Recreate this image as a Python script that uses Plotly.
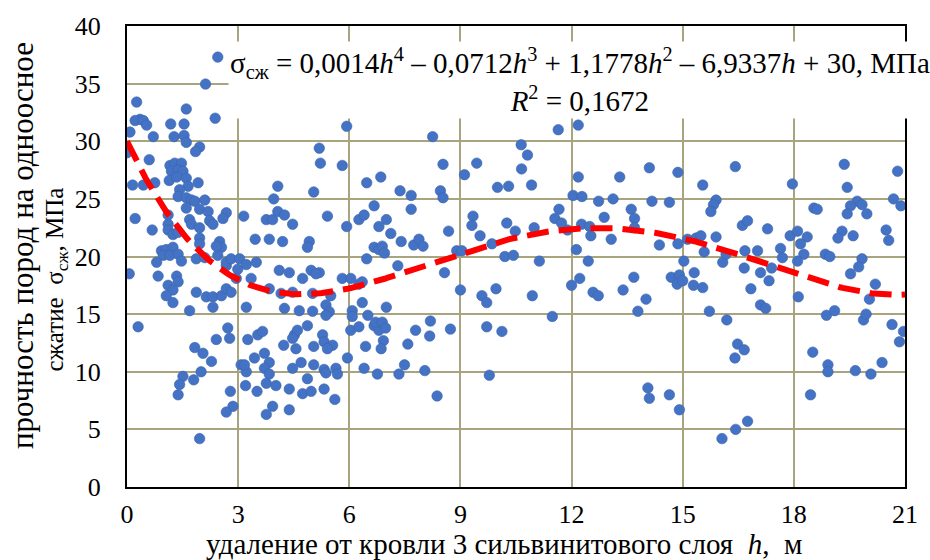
import plotly.graph_objects as go
import numpy as np

# distance from the roof of sylvinite layer 3, m
h_vals = [
    2.12, 0.26, 1.6, 2.38, 0.35, 0.22, 0.44, 0.53, 0.08, 1.18, 1.54, 0.71, 1.27, 1.54, 1.6,
    1.96, 1.85, 0.0, 0.6, 1.16, 1.29, 1.47, 1.2, 1.38, 1.51, 1.14, 1.34, 1.6, 0.15, 0.44,
    0.75, 1.92, 1.65, 1.42, 1.38, 1.6, 1.74, 1.83, 2.1, 1.96, 2.19, 1.6, 1.11, 0.22, 2.68,
    2.59, 3.15, 0.68, 1.11, 1.11, 1.69, 1.74, 1.96, 1.24, 1.38, 1.96, 1.96, 2.23, 2.32, 2.5,
    2.55, 2.45, 0.93, 1.06, 1.24, 0.98, 1.16, 1.38, 0.8, 1.47, 1.87, 2.1, 0.06, 0.84, 1.34,
    1.38, 1.11, 1.24, 1.06, 1.24, 1.87, 2.14, 2.32, 2.32, 2.55, 2.68, 2.81, 2.99, 2.95, 2.68,
    1.69, 2.41, 2.68, 2.81, 3.04, 0.3, 2.72, 2.77, 2.41, 1.83, 2.05, 2.28, 3.08, 3.22, 3.2,
    1.51, 1.42, 1.38, 1.8, 2.0, 2.79, 2.86, 2.68, 1.96, 2.45,
    5.93, 5.19, 5.22, 5.81, 4.07, 3.96, 5.04, 6.47, 6.85, 3.76, 3.93, 4.07, 4.25, 4.47, 5.41,
    5.93, 6.26, 6.4, 6.67, 6.8, 3.46, 3.84, 4.2, 4.92, 4.87, 6.67, 6.8, 6.47, 3.22, 3.49,
    4.11, 4.38, 4.97, 5.19, 5.1, 3.35, 3.84, 4.74, 5.81, 6.04, 6.26, 6.35, 4.16, 4.47, 5.01,
    5.5, 6.35, 3.22, 4.25, 4.65, 5.01, 5.37, 5.46, 5.37, 6.08, 6.08, 6.5, 6.04, 6.26, 6.67,
    6.8, 3.26, 3.53, 3.66, 4.52, 4.6, 4.87, 4.47, 5.28, 5.32, 5.55, 5.41, 4.23, 4.56, 5.04,
    6.44, 3.44, 3.71, 3.17, 3.84, 3.71, 3.84, 3.76, 4.02, 4.47, 4.7, 5.04, 5.32, 5.64, 5.68,
    5.37, 5.95, 6.4, 6.76, 3.51, 4.38, 4.74, 4.97, 5.32, 4.87, 5.61, 3.93, 3.76, 4.38,
    8.25, 8.53, 9.44, 9.11, 7.37, 7.67, 7.67, 8.46, 8.53, 10.0, 10.3, 7.0, 7.12, 7.4, 7.74,
    7.88, 7.99, 8.68, 9.34, 9.31, 9.53, 10.25, 6.89, 6.95, 8.9, 9.04, 9.85, 10.2, 7.31, 8.57,
    9.0, 9.58, 9.71, 9.96, 7.0, 6.71, 6.89, 6.98, 8.19, 7.79, 8.17, 8.73, 9.71, 10.12, 6.92,
    6.86, 7.58, 7.34, 7.49, 8.04, 9.78, 8.37,
    11.64, 12.18, 10.64, 10.81, 10.65, 10.92, 12.18, 13.3, 12.04, 12.28, 12.73, 13.12, 13.61, 13.7, 13.7,
    11.66, 11.55, 11.73, 11.89, 10.48, 10.99, 12.27, 12.49, 12.52, 12.88, 13.07, 10.43, 11.13, 12.13, 12.45,
    12.0, 12.22, 12.58, 12.72, 13.39, 13.68, 10.94, 11.48, 13.79,
    14.1, 14.87, 16.42, 15.54, 14.17, 14.64, 15.9, 15.83, 15.76, 16.61, 16.75, 17.29, 14.37, 14.87, 15.13,
    15.36, 15.49, 15.9, 15.58, 16.08, 16.17, 16.68, 17.02, 15.03, 16.66, 14.69, 14.91, 14.85, 15.0, 15.31,
    15.29, 15.54, 17.1, 17.33, 16.84, 14.01, 17.1, 17.24, 15.72, 16.19, 16.48, 16.66, 16.41, 14.06, 14.1,
    14.64, 14.91, 16.06, 16.43, 16.75,
    19.36, 20.8, 19.44, 17.96, 18.54, 18.63, 19.71, 19.53, 19.84, 19.97, 19.44, 20.69, 20.89, 17.9, 18.1,
    18.36, 18.18, 17.64, 17.69, 19.3, 19.19, 19.6, 20.49, 20.56, 18.27, 18.1, 18.85, 18.97, 19.84, 19.75,
    19.53, 20.2, 17.4, 18.12, 20.04, 18.88, 19.1, 19.88, 19.95, 20.65, 20.96, 20.85, 18.51, 18.92, 18.92,
    19.66, 20.08, 20.38, 18.45,
]

# uniaxial compressive strength, MPa
s_vals = [
    34.96, 33.4, 32.8, 32.0, 31.9, 31.8, 31.8, 31.4, 30.8, 31.5, 31.5, 30.4, 30.4, 30.5, 29.9,
    29.5, 29.1, 29.0, 28.4, 27.9, 28.1, 28.1, 27.4, 27.5, 27.4, 26.6, 26.9, 26.8, 26.2, 26.2,
    26.4, 26.4, 26.1, 25.8, 25.2, 25.1, 24.9, 24.8, 24.9, 24.1, 23.9, 24.2, 23.6, 23.3, 23.8,
    23.3, 23.5, 22.3, 22.8, 22.3, 23.2, 22.8, 22.5, 21.9, 22.1, 21.6, 21.1, 23.1, 22.8, 21.3,
    20.8, 20.1, 20.5, 20.6, 20.8, 20.1, 20.1, 20.2, 19.5, 19.6, 19.8, 19.9, 18.5, 18.3, 18.3,
    17.8, 17.5, 17.1, 16.6, 16.0, 16.9, 16.5, 16.5, 15.6, 16.6, 17.2, 16.9, 18.9, 18.1, 19.2,
    15.3, 20.9, 19.5, 19.8, 19.8, 13.9, 13.8, 12.9, 12.8, 12.1, 11.6, 10.9, 10.6, 10.0, 8.8,
    9.6, 8.9, 8.0, 9.3, 10.0, 8.3, 7.0, 6.5, 4.2, 37.3,
    31.3, 29.4, 28.1, 27.9, 26.1, 25.0, 25.6, 26.4, 26.9, 23.2, 23.2, 23.9, 23.6, 22.8, 23.5,
    22.6, 23.2, 23.6, 24.4, 22.6, 21.5, 21.5, 21.3, 21.3, 20.8, 20.8, 20.6, 19.8, 19.3, 19.5,
    18.8, 18.6, 18.8, 18.6, 18.5, 18.1, 17.2, 18.1, 18.1, 18.1, 17.6, 17.8, 16.8, 16.9, 16.8,
    16.6, 16.0, 15.6, 15.5, 15.3, 15.25, 15.8, 15.2, 14.9, 15.3, 14.8, 14.9, 13.6, 13.9, 14.0,
    13.6, 12.8, 13.2, 13.5, 13.2, 13.6, 14.0, 12.9, 13.2, 12.6, 12.3, 12.0, 12.3, 12.0, 12.2,
    12.2, 11.2, 11.6, 10.6, 10.8, 10.3, 9.8, 9.0, 8.8, 10.3, 10.8, 10.6, 10.2, 10.3, 9.8,
    9.9, 11.2, 10.3, 9.8, 8.3, 8.5, 8.1, 8.3, 8.5, 9.4, 7.6, 7.0, 6.3, 6.7,
    30.4, 28.0, 28.1, 27.1, 25.7, 25.3, 24.1, 25.7, 25.1, 26.0, 26.1, 23.2, 22.0, 21.3, 21.0,
    21.5, 20.9, 22.2, 23.5, 22.7, 21.8, 22.9, 20.9, 20.3, 20.5, 20.5, 21.1, 20.0, 19.2, 18.6,
    17.1, 16.6, 16.0, 17.2, 15.6, 14.3, 14.3, 13.8, 14.4, 13.6, 13.1, 13.7, 13.9, 13.5, 12.7,
    12.0, 12.4, 9.8, 10.6, 10.1, 9.7, 7.9,
    31.0, 31.4, 29.7, 28.8, 27.6, 26.2, 26.9, 26.9, 25.3, 25.2, 24.8, 25.0, 24.1, 23.3, 22.5,
    24.1, 23.3, 22.9, 22.3, 22.2, 22.5, 22.8, 22.6, 21.8, 23.4, 21.5, 20.1, 19.6, 20.6, 19.6,
    17.5, 18.1, 16.9, 16.6, 17.1, 18.2, 16.6, 14.8, 15.25,
    27.7, 27.3, 27.8, 26.2, 24.8, 24.7, 24.9, 24.5, 23.9, 22.7, 23.1, 22.4, 21.0, 21.1, 21.5,
    21.6, 21.8, 21.7, 20.4, 19.5, 20.2, 20.5, 20.5, 19.6, 19.0, 18.2, 18.4, 17.6, 17.9, 18.6,
    17.5, 17.3, 18.6, 17.9, 17.2, 16.3, 15.8, 15.5, 15.25, 14.5, 12.4, 11.9, 11.2, 8.6, 7.7,
    8.0, 6.7, 4.2, 5.0, 5.7,
    28.0, 27.4, 26.0, 26.3, 24.2, 24.1, 24.8, 24.4, 24.5, 23.7, 23.7, 25.0, 24.4, 21.8, 22.2,
    21.7, 21.1, 20.7, 19.9, 22.2, 21.6, 21.8, 22.3, 21.4, 20.2, 19.6, 20.2, 20.0, 19.8, 19.1,
    18.5, 17.6, 19.0, 16.5, 16.3, 14.9, 15.3, 14.5, 15.0, 14.1, 13.5, 12.6, 11.7, 10.6, 10.0,
    10.1, 9.8, 10.8, 8.0,
]

# 4th-degree polynomial trend, coefficients from the fitted equation
poly_coef = [0.0014, -0.0712, 1.1778, -6.9337, 30.0]
x_ticks = [0, 3, 6, 9, 12, 15, 18, 21]
y_ticks = [0, 5, 10, 15, 20, 25, 30, 35, 40]

h_fit = np.linspace(0, 21, 300)
s_fit = np.polyval(poly_coef, h_fit)

serif = "Liberation Serif"
grid_col = "#a8a47e"

fig = go.Figure()
fig.add_trace(go.Scatter(
    x=h_vals, y=s_vals, mode="markers",
    marker=dict(size=10.5, color="#4472c4", line=dict(width=0.6, color="#3d65ad")),
    showlegend=False, hoverinfo="x+y",
))
fig.add_trace(go.Scatter(
    x=h_fit, y=s_fit, mode="lines",
    line=dict(color="#ff0000", width=6, dash="22px,10px"),
    showlegend=False, hoverinfo="skip",
))

fig.update_layout(
    width=930, height=560,
    margin=dict(l=127, r=22, t=21, b=73),
    paper_bgcolor="white", plot_bgcolor="white",
    font=dict(family=serif, color="black"),
    xaxis=dict(
        range=[0, 21], tickvals=x_ticks, ticktext=[str(v) for v in x_ticks],
        showgrid=True, gridcolor=grid_col, gridwidth=1.5,
        showline=True, linecolor="black", linewidth=2, mirror=True,
        zeroline=False, ticks="", tickfont=dict(size=26, family=serif, color="black"),
        ticklabelstandoff=3,
    ),
    yaxis=dict(
        range=[0, 40], tickvals=y_ticks, ticktext=[str(v) for v in y_ticks],
        showgrid=True, gridcolor=grid_col, gridwidth=1.5,
        showline=True, linecolor="black", linewidth=2, mirror=True,
        zeroline=False, ticks="", tickfont=dict(size=26, family=serif, color="black"),
        ticklabelstandoff=19,
    ),
)

# trend equation with white backing
fig.add_annotation(
    xref="paper", yref="paper", x=(582 - 127) / 781, y=(487 - 76) / 466,
    xanchor="center", yanchor="middle", align="center", showarrow=False,
    text=("σ<sub>сж</sub> = 0,0014<i>h</i><sup>4</sup> – 0,0712<i>h</i><sup>3</sup> + "
          "1,1778<i>h</i><sup>2</sup> – 6,9337<i>h</i> + 30, МПа<br>"
          "<i>R</i><sup>2</sup> = 0,1672"),
    font=dict(size=29, family=serif, color="black"),
    bgcolor="white", borderpad=1,
)

# axis titles
fig.add_annotation(
    xref="paper", yref="paper", x=(505 - 127) / 781, y=(487 - 545) / 466,
    xanchor="center", yanchor="middle", showarrow=False,
    text="удаление от кровли 3 сильвинитового слоя  <i>h</i>,  м",
    font=dict(size=29, family=serif, color="black"),
)
fig.add_annotation(
    xref="paper", yref="paper", x=(22 - 127) / 781, y=(487 - 243) / 466,
    xanchor="center", yanchor="middle", showarrow=False, textangle=-90,
    text="прочность пород на одноосное",
    font=dict(size=31, family=serif, color="black"),
)
fig.add_annotation(
    xref="paper", yref="paper", x=(56 - 127) / 781, y=(487 - 277) / 466,
    xanchor="center", yanchor="middle", showarrow=False, textangle=-90,
    text="сжатие  σ<sub>сж</sub>, МПа",
    font=dict(size=25, family=serif, color="black"),
)

fig.write_html("out.html")
